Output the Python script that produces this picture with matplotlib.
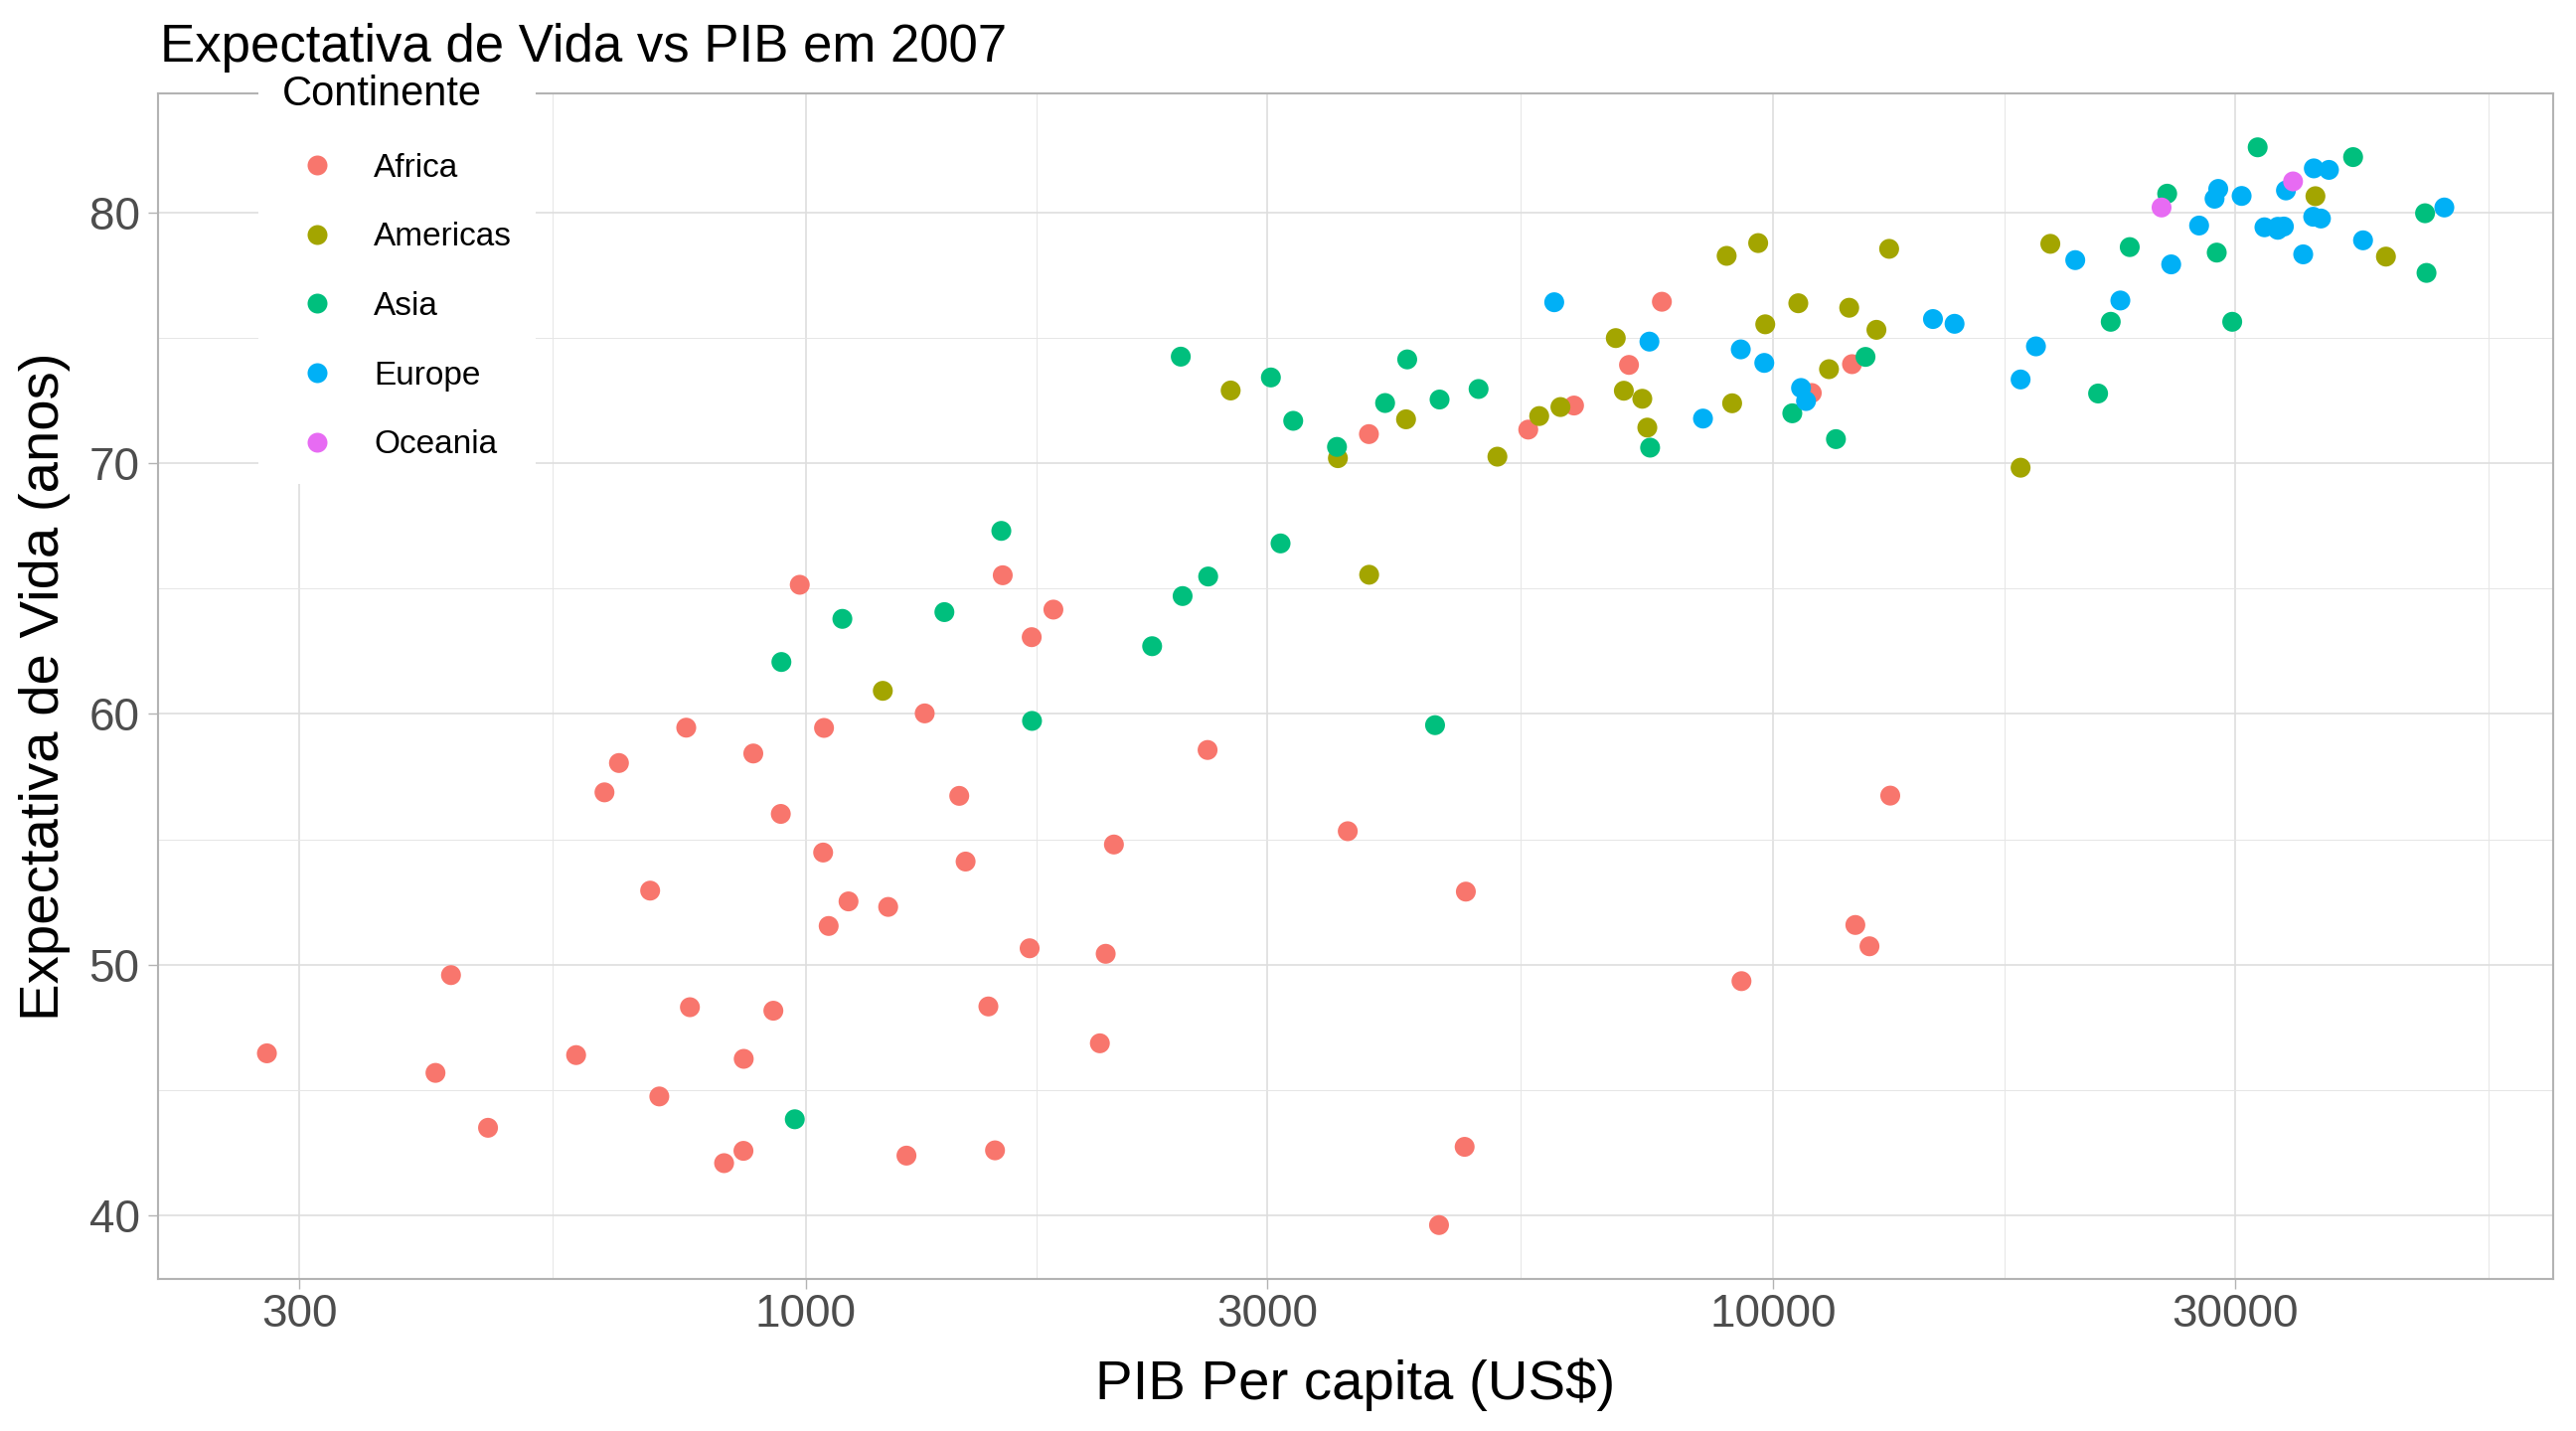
import matplotlib
matplotlib.use("Agg")
import matplotlib.pyplot as plt
from matplotlib.lines import Line2D
from matplotlib.ticker import FixedLocator, NullFormatter

plt.rcParams["font.family"] = ["Liberation Sans", "DejaVu Sans"]

# Gapminder 2007: PIB per capita (US$) e expectativa de vida
africa_gdp = [6223.37, 4797.23, 1441.28, 12569.85, 1217.03, 430.07, 2042.10, 706.02,
              1704.06, 986.15, 277.55, 3632.56, 1544.75, 2082.48, 5581.18, 12154.09,
              641.37, 690.81, 13206.48, 752.75, 1327.61, 942.65, 579.23, 1463.25,
              1569.33, 414.51, 12057.50, 1044.77, 759.35, 1042.58, 1803.15, 10956.99,
              3820.18, 823.69, 4811.06, 619.68, 2013.98, 7670.12, 863.09, 1598.44,
              1712.47, 862.54, 926.14, 9269.66, 2602.39, 4513.48, 1107.48, 882.97,
              7092.92, 1056.38, 1271.21, 469.71]
africa_life = [72.30, 42.73, 56.73, 50.73, 52.30, 49.58, 50.43, 44.74,
               50.65, 65.15, 46.46, 55.32, 48.33, 54.79, 71.34, 51.58,
               58.04, 52.95, 56.74, 59.45, 60.02, 56.01, 46.39, 54.11,
               42.59, 45.68, 73.95, 59.44, 48.30, 54.47, 64.16, 72.80,
               71.16, 42.08, 52.91, 56.87, 46.86, 76.44, 46.24, 65.53,
               63.06, 42.57, 48.16, 49.34, 58.56, 39.61, 52.52, 58.42,
               73.92, 51.54, 42.38, 43.49]

americas_gdp = [12779.38, 3822.14, 9065.80, 36319.24, 13171.64, 7006.58, 9645.06, 8948.10,
                6025.37, 6873.26, 5728.35, 5186.05, 1201.64, 3548.33, 7320.88, 11977.57,
                2749.32, 9809.19, 4172.84, 7408.91, 19328.71, 18008.51, 42951.65, 10611.46,
                11415.81]
americas_life = [75.32, 65.55, 72.39, 80.65, 78.55, 72.89, 78.78, 78.27,
                 72.24, 74.99, 71.88, 70.26, 60.92, 70.20, 72.57, 76.20,
                 72.90, 75.54, 71.75, 71.42, 78.75, 69.82, 78.24, 76.38,
                 73.75]

asia_gdp = [974.58, 29796.05, 1391.25, 1713.78, 4959.11, 39724.98, 2452.21, 3540.65,
            11605.71, 4471.06, 25523.28, 31656.07, 4519.46, 1593.07, 23348.14, 47306.99,
            10461.06, 12451.66, 3095.77, 944.00, 1091.36, 22316.19, 2605.95, 3190.48,
            21654.83, 47143.18, 3970.10, 4184.55, 28718.28, 7458.40, 2441.58, 3025.35,
            2280.77]
asia_life = [43.83, 75.64, 64.06, 59.72, 72.96, 82.21, 64.70, 70.65,
             70.96, 59.55, 80.75, 82.60, 72.54, 67.30, 78.62, 77.59,
             71.99, 74.24, 66.80, 62.07, 63.79, 75.64, 65.48, 71.69,
             72.78, 79.97, 72.40, 74.14, 78.40, 70.62, 74.25, 73.42,
             62.70]

europe_gdp = [5937.03, 36126.49, 33692.61, 7446.30, 10680.79, 14619.22, 22833.31, 35278.42,
              33207.08, 30470.02, 32170.37, 27538.41, 18008.94, 36180.79, 40676.00, 28569.72,
              9253.90, 36797.93, 49357.19, 15389.92, 20509.65, 10808.48, 9786.53, 18678.31,
              25768.26, 28821.06, 33859.75, 37506.42, 8458.28, 33203.26]
europe_life = [76.42, 79.83, 79.44, 74.85, 73.00, 75.75, 76.49, 78.33,
               79.31, 80.66, 79.41, 79.48, 73.34, 81.76, 78.89, 80.55,
               74.54, 79.76, 80.20, 75.56, 78.10, 72.48, 74.00, 74.66,
               77.93, 80.94, 80.88, 81.70, 71.78, 79.43]

oceania_gdp = [34435.37, 25185.01]
oceania_life = [81.24, 80.20]

continentes = ["Africa", "Americas", "Asia", "Europe", "Oceania"]
cores = ["#F8766D", "#A3A500", "#00BF7D", "#00B0F6", "#E76BF3"]
x_ticks = [300, 1000, 3000, 10000, 30000]
x_minor = [547.7, 1732.1, 5477.2, 17320.5, 54772.3]
y_ticks = [40, 50, 60, 70, 80]
y_minor = [45, 55, 65, 75]

dados = [(africa_gdp, africa_life), (americas_gdp, americas_life),
         (asia_gdp, asia_life), (europe_gdp, europe_life),
         (oceania_gdp, oceania_life)]

W, H = 2592, 1440
fig = plt.figure(figsize=(12.96, 7.2), dpi=200)
ax = fig.add_axes([159 / W, 1 - 1287 / H, (2569 - 159) / W, (1287 - 94) / H])

for (gx, gy), cor in zip(dados, cores):
    ax.scatter(gx, gy, s=52, color=cor, edgecolors="none", zorder=3)

ax.set_xscale("log")
ax.set_xlim(214.2, 63940)
ax.set_ylim(37.46, 84.75)
ax.xaxis.set_major_locator(FixedLocator(x_ticks))
ax.xaxis.set_minor_locator(FixedLocator(x_minor))
ax.xaxis.set_minor_formatter(NullFormatter())
ax.set_xticklabels([str(t) for t in x_ticks])
ax.yaxis.set_major_locator(FixedLocator(y_ticks))
ax.yaxis.set_minor_locator(FixedLocator(y_minor))

ax.grid(True, which="major", color="#DEDEDE", linewidth=0.6, zorder=0)
ax.grid(True, which="minor", color="#E6E6E6", linewidth=0.35, zorder=0)
ax.set_axisbelow(True)
for sp in ax.spines.values():
    sp.set_color("#B3B3B3")
    sp.set_linewidth(0.75)
ax.tick_params(which="major", length=3.6, width=0.5, color="#B3B3B3",
               labelsize=16.5, labelcolor="#4D4D4D")
ax.tick_params(axis="x", which="major", pad=1.5)
ax.tick_params(axis="y", which="major", pad=3)
ax.tick_params(which="minor", length=0)

fig.text(161 / W, 1 - 62 / H, "Expectativa de Vida vs PIB em 2007",
         fontsize=19, ha="left", va="baseline")
fig.text((159 + 2569) / 2 / W, 1 - 1408 / H, "PIB Per capita (US$)",
         fontsize=20.3, ha="center", va="baseline")
fig.text(45 / W, 1 - (94 + 1287) / 2 / H, "Expectativa de Vida (anos)",
         fontsize=20.3, ha="center", va="center", rotation=90)

handles = [Line2D([], [], marker="o", ls="", color=c, markersize=7.2,
                  markeredgewidth=0) for c in cores]
leg = ax.legend(handles, continentes, title="Continente", loc="upper left",
                bbox_to_anchor=(260 / W, 1 - 51 / H), bbox_transform=fig.transFigure,
                fontsize=12, title_fontsize=15, frameon=True, fancybox=False,
                facecolor="white", edgecolor="none", framealpha=1,
                borderpad=0.72, borderaxespad=0, handlelength=2.1,
                handletextpad=0.66, labelspacing=1.16, alignment="left")

fig.savefig("out.png", dpi=200, facecolor="white")
